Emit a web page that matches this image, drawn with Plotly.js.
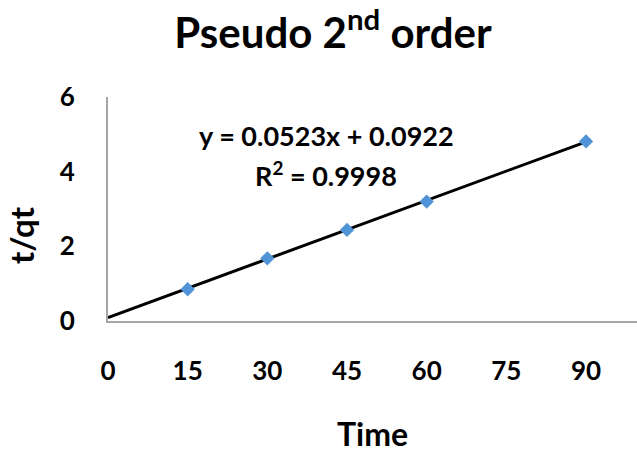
<!DOCTYPE html>
<html>
<head>
<meta charset="utf-8">
<script src="https://cdn.plot.ly/plotly-3.0.1.min.js"></script>
<style>html,body{margin:0;padding:0;background:#fff;}#chart{width:637px;height:453px;}</style>
</head>
<body>
<div id="chart"></div>
<script>
// Data
const timeValues = [15, 30, 45, 60, 90];
const tqtValues = [0.85, 1.68, 2.44, 3.20, 4.81];
const xTickValues = [0, 15, 30, 45, 60, 75, 90];
const yTickValues = [0, 2, 4, 6];
const trendSlope = 0.0523;
const trendIntercept = 0.0922;
const trendX = [0, 90];
const trendY = trendX.map(x => trendSlope * x + trendIntercept);
const equationText = 'y = 0.0523x + 0.0922';
const r2Text = 'R<sup>2</sup> = 0.9998';

const FONT = 'Lato, "Open Sans", sans-serif';

const traces = [
  {
    x: trendX, y: trendY, type: 'scatter', mode: 'lines',
    line: {color: '#000000', width: 3}, hoverinfo: 'skip', showlegend: false
  },
  {
    x: timeValues, y: tqtValues, type: 'scatter', mode: 'markers',
    marker: {symbol: 'diamond', size: 11, color: '#5094D8'}, showlegend: false
  }
];

const layout = {
  width: 637, height: 453,
  margin: {l: 108, r: 0, t: 97, b: 132},
  paper_bgcolor: '#ffffff', plot_bgcolor: '#ffffff',
  font: {family: FONT, color: '#000000', weight: 'bold'},
  title: {
    text: 'Pseudo 2<sup>nd</sup> order',
    font: {family: FONT, size: 42, color: '#000000', weight: 'bold'},
    xref: 'container', x: 333/637, xanchor: 'center',
    yref: 'container', y: 1 - 33/453, yanchor: 'middle'
  },
  xaxis: {
    range: [0, 99.6], tickvals: xTickValues, ticktext: xTickValues.map(String),
    showgrid: false, zeroline: false, showline: true, linecolor: '#A6A6A6', linewidth: 2,
    ticks: '', ticklabelstandoff: 26,
    tickfont: {family: FONT, size: 26, color: '#000000', weight: 'bold'},
    title: {text: 'Time', font: {family: FONT, size: 32, color: '#000000', weight: 'bold'}, standoff: 50}
  },
  yaxis: {
    range: [0, 6], tickvals: yTickValues, ticktext: yTickValues.map(String),
    showgrid: false, zeroline: false, showline: true, linecolor: '#A6A6A6', linewidth: 2,
    ticks: '', ticklabelstandoff: 26,
    tickfont: {family: FONT, size: 26, color: '#000000', weight: 'bold'}
  },
  annotations: [
    {xref: 'paper', yref: 'paper', x: (326-108)/529, y: (321-135)/224, xanchor: 'center', yanchor: 'middle',
     text: equationText, showarrow: false, font: {family: FONT, size: 27, color: '#000000', weight: 'bold'}},
    {xref: 'paper', yref: 'paper', x: (326-108)/529, y: (321-174)/224, xanchor: 'center', yanchor: 'middle',
     text: r2Text, showarrow: false, font: {family: FONT, size: 27, color: '#000000', weight: 'bold'}},
    {xref: 'paper', yref: 'paper', x: (21-108)/529, y: (321-235)/224, xanchor: 'center', yanchor: 'middle',
     text: 't/qt', textangle: -90, showarrow: false, font: {family: FONT, size: 33, color: '#000000', weight: 'bold'}}
  ]
};

Plotly.newPlot('chart', traces, layout, {displayModeBar: false, staticPlot: true});
</script>
</body>
</html>
